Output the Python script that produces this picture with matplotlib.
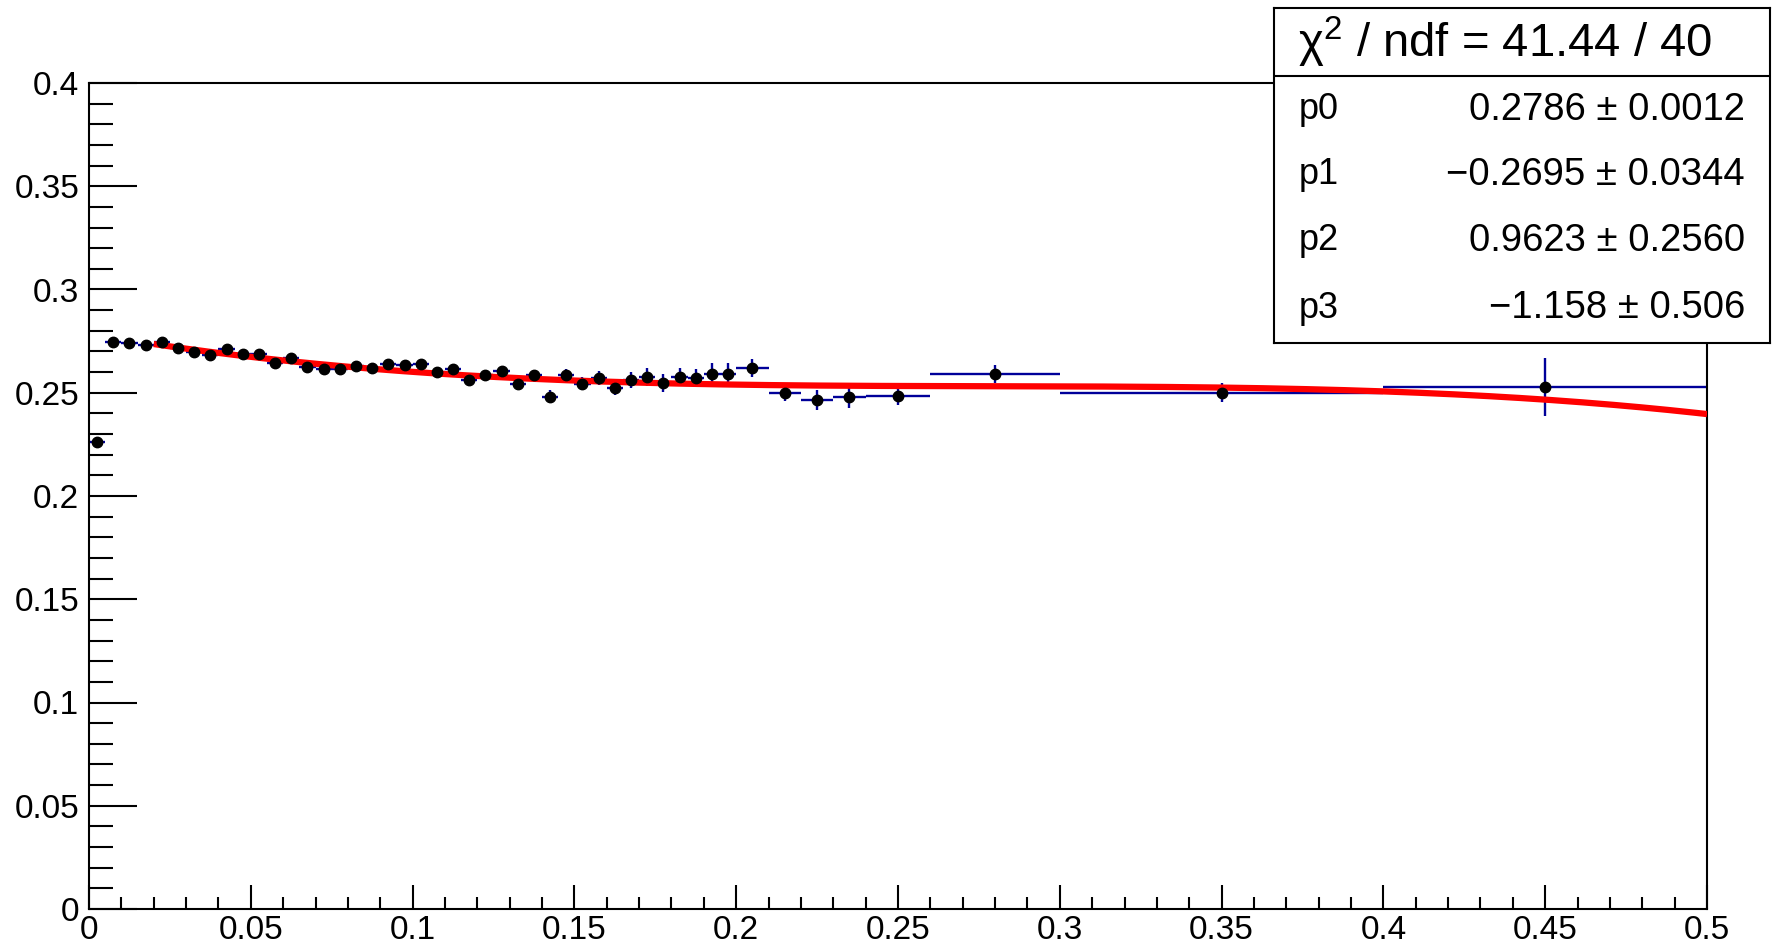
import numpy as np
import matplotlib
matplotlib.use("Agg")
import matplotlib.pyplot as plt
from matplotlib.lines import Line2D

plt.rcParams['font.family'] = ['Liberation Sans', 'DejaVu Sans']
plt.rcParams['mathtext.fontset'] = 'custom'
plt.rcParams['mathtext.rm'] = 'Liberation Sans'
plt.rcParams['mathtext.it'] = 'Liberation Sans'

# ---- data ----
x_centers = [0.0025, 0.0075, 0.0125, 0.0175, 0.0225, 0.0275, 0.0325, 0.0375, 0.0425, 0.0475,
             0.0525, 0.0575, 0.0625, 0.0675, 0.0725, 0.0775, 0.0825, 0.0875, 0.0925, 0.0975,
             0.1025, 0.1075, 0.1125, 0.1175, 0.1225, 0.1275, 0.1325, 0.1375, 0.1425, 0.1475,
             0.1525, 0.1575, 0.1625, 0.1675, 0.1725, 0.1775, 0.1825, 0.1875, 0.1925, 0.1975,
             0.205, 0.215, 0.225, 0.235, 0.25, 0.28, 0.35, 0.45]
x_halfwidths = [0.0025] * 40 + [0.005, 0.005, 0.005, 0.005, 0.01, 0.02, 0.05, 0.05]
y_values = [0.2262, 0.2747, 0.2742, 0.2731, 0.2747, 0.2718, 0.2698, 0.2681, 0.2710, 0.2689,
            0.2689, 0.2645, 0.2666, 0.2624, 0.2616, 0.2616, 0.2629, 0.2618, 0.2640, 0.2634,
            0.2637, 0.2602, 0.2616, 0.2560, 0.2585, 0.2605, 0.2542, 0.2585, 0.2481, 0.2585,
            0.2544, 0.2571, 0.2523, 0.2561, 0.2575, 0.2548, 0.2576, 0.2572, 0.2592, 0.2592,
            0.2620, 0.2500, 0.2463, 0.2477, 0.2482, 0.2590, 0.2501, 0.2528]
y_errors = [0.0008, 0.0010, 0.0010, 0.0010, 0.0010, 0.0010, 0.0011, 0.0011, 0.0011, 0.0012,
            0.0012, 0.0012, 0.0013, 0.0013, 0.0014, 0.0014, 0.0015, 0.0015, 0.0016, 0.0016,
            0.0017, 0.0018, 0.0018, 0.0019, 0.0020, 0.0021, 0.0028, 0.0022, 0.0030, 0.0030,
            0.0032, 0.0035, 0.0035, 0.0040, 0.0043, 0.0045, 0.0045, 0.0045, 0.0053, 0.0053,
            0.0045, 0.0040, 0.0048, 0.0053, 0.0040, 0.0044, 0.0048, 0.0139]

fit_params = [0.2786, -0.2695, 0.9623, -1.158]
fit_range = [0.02, 0.5]
chi2_text = '\u03c7$^{2}$ / ndf = 41.44 / 40'
param_names = ['p0', 'p1', 'p2', 'p3']
param_texts = ['0.2786 \u00b1 0.0012', '\u22120.2695 \u00b1 0.0344',
               '0.9623 \u00b1 0.2560', '\u22121.158 \u00b1 0.506']

x_ticks = [0, 0.05, 0.1, 0.15, 0.2, 0.25, 0.3, 0.35, 0.4, 0.45, 0.5]
x_ticklabels = ['0', '0.05', '0.1', '0.15', '0.2', '0.25', '0.3', '0.35', '0.4', '0.45', '0.5']
y_ticks = [0, 0.05, 0.1, 0.15, 0.2, 0.25, 0.3, 0.35, 0.4]
y_ticklabels = ['0', '0.05', '0.1', '0.15', '0.2', '0.25', '0.3', '0.35', '0.4']

# ---- figure ----
W, H = 1773, 947
fig = plt.figure(figsize=(W / 100, H / 100), dpi=100)
ax = fig.add_axes([89 / W, 1 - 909 / H, (1707 - 89) / W, (909 - 83) / H])

ax.errorbar(x_centers, y_values, xerr=x_halfwidths, yerr=y_errors, fmt='none',
            ecolor='#000099', elinewidth=1.7, capsize=0, zorder=2)
ax.plot(x_centers, y_values, 'o', color='black', markersize=7.5, zorder=4)

xf = np.linspace(fit_range[0], fit_range[1], 400)
yf = np.polyval(fit_params[::-1], xf)
ax.plot(xf, yf, color='#ff0000', linewidth=4.5, zorder=3, solid_capstyle='butt')

ax.set_xlim(0, 0.5)
ax.set_ylim(0, 0.4)
ax.set_xticks(x_ticks)
ax.set_xticklabels(x_ticklabels)
ax.set_yticks(y_ticks)
ax.set_yticklabels(y_ticklabels)
ax.set_xticks(np.arange(0, 0.5001, 0.01), minor=True)
ax.set_yticks(np.arange(0, 0.4001, 0.01), minor=True)

ax.tick_params(axis='both', which='both', direction='in', top=False, right=False,
               width=1.5, colors='black', labelsize=24)
ax.tick_params(axis='x', which='major', length=17.3, pad=4)
ax.tick_params(axis='x', which='minor', length=8.6)
ax.tick_params(axis='y', which='major', length=34.6, pad=7)
ax.tick_params(axis='y', which='minor', length=17.3)
for sp in ax.spines.values():
    sp.set_linewidth(1.5)

# ---- stats box ----
bl, br, bt, bb = 1274, 1770, 8, 343
sax = fig.add_axes([bl / W, 1 - bb / H, (br - bl) / W, (bb - bt) / H], zorder=10)
sax.set_xlim(bl, br)
sax.set_ylim(bb, bt)
sax.set_xticks([])
sax.set_yticks([])
sax.set_facecolor('white')
for sp in sax.spines.values():
    sp.set_linewidth(1.5)
sax.add_line(Line2D([bl, br], [76, 76], color='black', linewidth=1.5))
sax.text(1298, 42, chi2_text, fontsize=34, ha='left', va='center')
row_y = [110, 175, 241, 308]
for name, val, yy in zip(param_names, param_texts, row_y):
    sax.text(1299, yy, name, fontsize=26, ha='left', va='center')
    sax.text(1745, yy, val, fontsize=27.5, ha='right', va='center')

fig.savefig('out.png', dpi=100)
